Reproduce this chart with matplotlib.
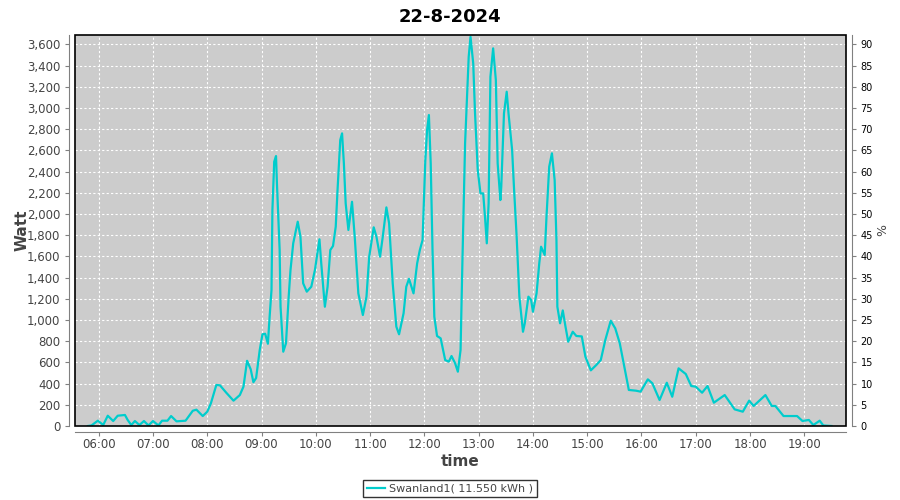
import matplotlib
matplotlib.use("Agg")
import matplotlib.pyplot as plt
from matplotlib.patches import Rectangle
from matplotlib.ticker import FuncFormatter, MultipleLocator

# readings of the day (time of day, watts)
times = ["05:48", "05:52", "05:59", "06:05", "06:10", "06:16", "06:21", "06:25", "06:29", "06:32",
         "06:36", "06:40", "06:45", "06:50", "06:55", "07:00", "07:06", "07:10", "07:16", "07:20",
         "07:26", "07:36", "07:44", "07:48", "07:55", "08:00", "08:04", "08:10", "08:14", "08:21",
         "08:29", "08:36", "08:40", "08:44", "08:48", "08:51", "08:54", "08:58", "09:01", "09:04",
         "09:07", "09:09", "09:11", "09:12", "09:14", "09:16", "09:17", "09:20", "09:21", "09:24",
         "09:27", "09:30", "09:32", "09:35", "09:40", "09:43", "09:46", "09:50", "09:55", "09:59",
         "10:04", "10:06", "10:10", "10:13", "10:16", "10:19", "10:22", "10:24", "10:27", "10:29",
         "10:31", "10:33", "10:36", "10:40", "10:43", "10:47", "10:52", "10:56", "10:59", "11:04",
         "11:07", "11:11", "11:14", "11:18", "11:21", "11:25", "11:29", "11:32", "11:37", "11:40",
         "11:43", "11:48", "11:52", "11:55", "11:58", "12:01", "12:03", "12:05", "12:07", "12:09",
         "12:11", "12:14", "12:18", "12:23", "12:27", "12:30", "12:34", "12:37", "12:40", "12:42",
         "12:45", "12:49", "12:51", "12:54", "12:56", "12:59", "13:02", "13:05", "13:07", "13:09",
         "13:11", "13:13", "13:16", "13:19", "13:21", "13:24", "13:25", "13:28", "13:31", "13:33",
         "13:37", "13:39", "13:42", "13:45", "13:49", "13:51", "13:55", "13:58", "14:00", "14:04",
         "14:07", "14:09", "14:13", "14:15", "14:18", "14:21", "14:24", "14:26", "14:27", "14:30",
         "14:33", "14:36", "14:39", "14:44", "14:48", "14:54", "14:58", "15:04", "15:10", "15:15",
         "15:20", "15:26", "15:31", "15:36", "15:41", "15:46", "15:54", "15:59", "16:07", "16:12",
         "16:20", "16:28", "16:34", "16:41", "16:49", "16:55", "17:00", "17:07", "17:13", "17:20",
         "17:32", "17:43", "17:52", "17:59", "18:04", "18:17", "18:24", "18:28", "18:37", "18:52",
         "18:58", "19:05", "19:10", "19:17", "19:21", "19:30"]
watts = [0, 5, 50, 10, 97, 47, 97, 100, 104, 57,
         9, 47, 9, 47, 5, 47, 5, 50, 50, 94,
         44, 50, 144, 154, 94, 135, 214, 387, 384, 314,
         239, 292, 371, 615, 535, 413, 453, 717, 865, 870,
         776, 1040, 1283, 2037, 2493, 2546, 2289, 1660, 1125, 701,
         780, 1220, 1471, 1723, 1927, 1785, 1346, 1267, 1314, 1471,
         1761, 1534, 1125, 1314, 1660, 1698, 1880, 2226, 2697, 2760,
         2478, 2100, 1849, 2115, 1785, 1251, 1047, 1220, 1597, 1874,
         1785, 1597, 1785, 2062, 1912, 1346, 937, 865, 1063, 1314,
         1388, 1251, 1534, 1660, 1754, 2500, 2792, 2933, 2478, 1660,
         1031, 849, 827, 622, 607, 660, 591, 512, 717, 1534,
         2666, 3483, 3671, 3420, 2949, 2414, 2194, 2194, 1974, 1723,
         2100, 3294, 3562, 3263, 2478, 2131, 2257, 2949, 3153, 2949,
         2603, 2257, 1785, 1220, 889, 969, 1220, 1188, 1078, 1251,
         1534, 1691, 1613, 1974, 2446, 2572, 2320, 1754, 1125, 969,
         1090, 937, 795, 889, 849, 845, 654, 525, 575, 622,
         811, 993, 921, 780, 559, 340, 333, 324, 440, 403,
         245, 408, 276, 544, 490, 377, 371, 314, 377, 220,
         292, 157, 135, 239, 189, 292, 189, 189, 94, 94,
         47, 57, 9, 50, 5, 0]
hour_ticks = list(range(6, 20))
legend_label = "Swanland1( 11.550 kWh )"
title = "22-8-2024"

hours = [int(t[:2]) + int(t[3:]) / 60 for t in times]

fig = plt.figure(figsize=(9, 5), dpi=100)
ax = fig.add_axes([75 / 900, 74 / 500, 771 / 900, 391 / 500])
ax.set_facecolor("#cccccc")

ax.plot(hours, watts, color="#00cccc", linewidth=1.6, label=legend_label, zorder=3)

ax.set_xlim(5.563, 19.768)
ax.set_ylim(0, 3688)
ax.set_xticks(hour_ticks)
ax.set_xticklabels(["%02d:00" % h for h in hour_ticks])
ax.yaxis.set_major_locator(MultipleLocator(200))
ax.yaxis.set_major_formatter(FuncFormatter(lambda v, p: f"{int(v):,}"))
ax.grid(True, color="white", linestyle=(0, (2, 2)), linewidth=0.8)
ax.set_axisbelow(True)

grey = "#808080"
for side in ["top", "right"]:
    ax.spines[side].set_visible(False)
for side in ["left", "bottom"]:
    ax.spines[side].set_position(("outward", 4))
    ax.spines[side].set_color(grey)
ax.tick_params(axis="both", colors=grey, labelcolor="#444444", labelsize=8.5, length=3, width=0.8)
ax.tick_params(axis="x", pad=1.5)
ax.add_patch(Rectangle((0, 0), 1, 1, transform=ax.transAxes, fill=False,
                       edgecolor="black", linewidth=1.2, zorder=5, clip_on=False))

ax.set_xlabel("time", fontsize=11, fontweight="bold", color="#444444", labelpad=2)
ax.set_ylabel("Watt", fontsize=11, fontweight="bold", color="#444444", labelpad=-2)

ax2 = ax.twinx()
ax2.set_ylim(0, 3688 / 40)
ax2.yaxis.set_major_locator(MultipleLocator(5))
for side in ["top", "left", "bottom"]:
    ax2.spines[side].set_visible(False)
ax2.spines["right"].set_position(("outward", 4))
ax2.spines["right"].set_color(grey)
ax2.tick_params(axis="y", colors=grey, labelcolor="black", labelsize=7, length=3, width=0.8)
ax2.set_ylabel("%", fontsize=9, color="#444444", labelpad=2)

fig.suptitle(title, fontsize=13, fontweight="bold", y=0.985)

leg = fig.legend(loc="lower center", bbox_to_anchor=(0.5, -0.006), fontsize=8,
                 frameon=True, fancybox=False, handlelength=1.6, handletextpad=0.4,
                 borderpad=0.35)
leg.get_frame().set_edgecolor("black")
leg.get_frame().set_linewidth(1)
for t in leg.get_texts():
    t.set_color("#444444")

fig.savefig("out.png", dpi=100)
